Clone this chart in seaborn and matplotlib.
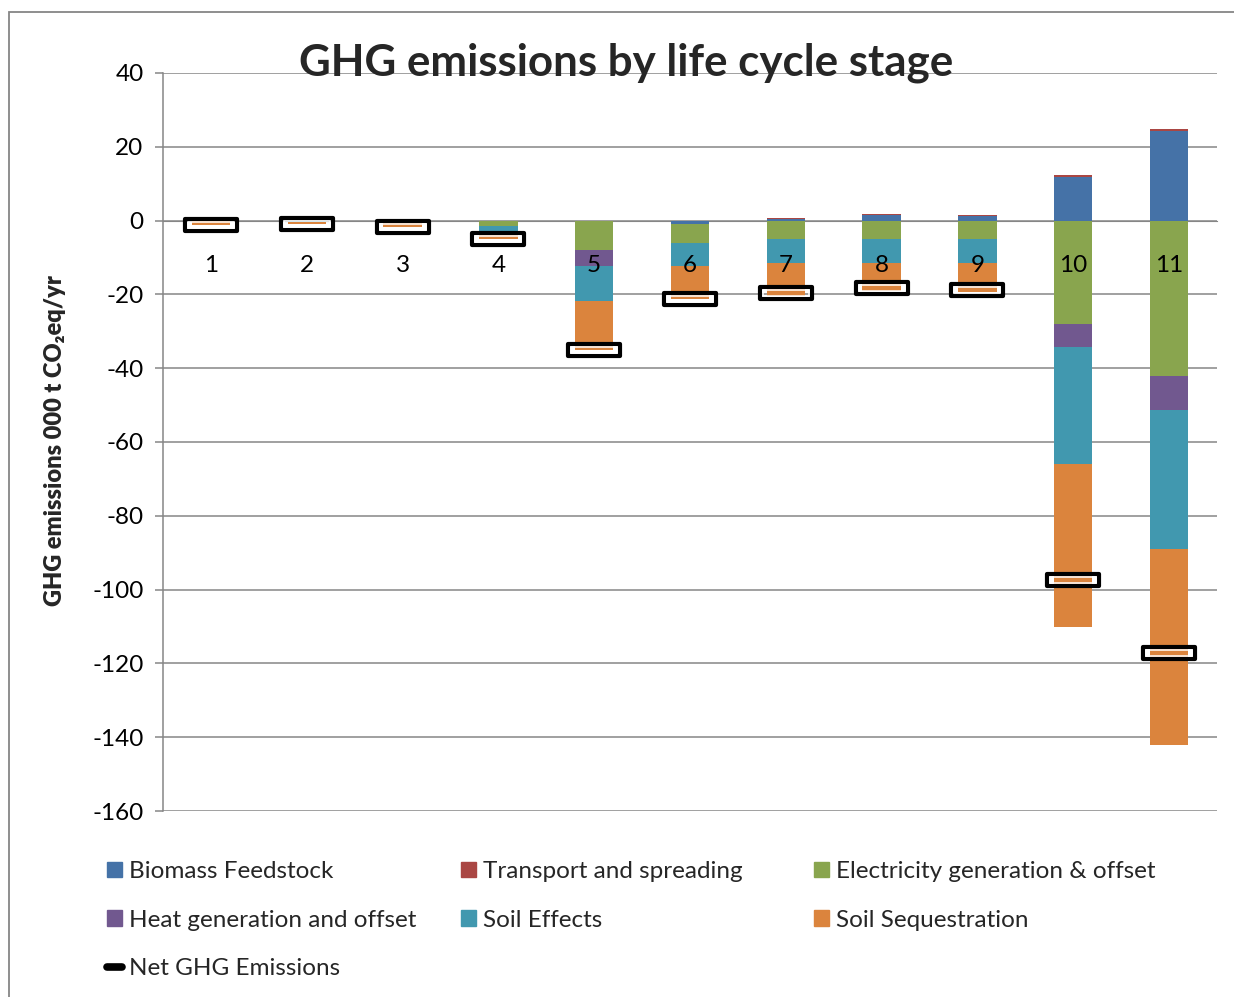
"""
GHG emissions by life cycle stage - stacked bars with net markers
"""

import numpy as np
import matplotlib
matplotlib.use("Agg")
import matplotlib.pyplot as plt
import seaborn as sns
from matplotlib.path import Path
from matplotlib.markers import MarkerStyle
from matplotlib.patches import Patch, Rectangle
from matplotlib.lines import Line2D

# data (000 t CO2eq/yr)
categories = [str(i) for i in range(1, 12)]
biomass = [0, 0, 0, 0, 0, -0.9, 0.4, 1.6, 1.3, 11.9, 24.3]
transport = [0, 0, 0, 0, 0, 0, 0.2, 0.1, 0.1, 0.4, 0.4]
electricity = [0, 0, 0, -1.4, -8.0, -5.3, -5.1, -5.1, -5.1, -28.0, -42.1]
heat = [0, 0, 0, 0, -4.2, 0, 0, 0, 0, -6.3, -9.2]
soil_effects = [0, -0.3, 0, -1.6, -9.6, -6.1, -6.3, -6.3, -6.3, -31.7, -37.7]
soil_seq = [-1.2, -0.7, -1.6, -2.0, -13.4, -8.9, -8.9, -7.6, -8.0, -44.1, -53.1]
net = [-1.2, -1.0, -1.6, -5.1, -35.0, -21.2, -19.7, -18.3, -18.8, -97.4, -117.2]

series_names = ["Biomass Feedstock", "Transport and spreading",
                "Electricity generation & offset", "Heat generation and offset",
                "Soil Effects", "Soil Sequestration"]
series_colors = ["#4572A7", "#AA4643", "#89A54E", "#71588F", "#4198AF", "#DB843D"]

GRAY = "#868686"
FS = 17.5

sns.set_style("white")
plt.rcParams["font.family"] = ["Lato", "DejaVu Sans"]
plt.rcParams["axes.unicode_minus"] = False

fig = plt.figure(figsize=(12.34, 9.97), dpi=100)
ax = fig.add_axes([163 / 1234, 1 - 811 / 997, (1217 - 163) / 1234, (811 - 73) / 997])

# Excel-style stacking: positives stack up, negatives stack down
values = np.array([biomass, transport, electricity, heat, soil_effects, soil_seq])
pos = np.clip(values, 0, None).cumsum(axis=0)
neg = np.clip(values, None, 0).cumsum(axis=0)

# draw cumulative bars from the outermost layer inwards
for k in range(len(series_names) - 1, -1, -1):
    for stack in (pos, neg):
        sns.barplot(x=categories, y=stack[k], color=series_colors[k], width=0.4,
                    saturation=1, linewidth=0, errorbar=None, ax=ax)

# net markers: thick black box with white inner ring
x_pos = np.arange(len(categories))
outer = MarkerStyle(Path([(-1, -0.216), (1, -0.216), (1, 0.216), (-1, 0.216), (-1, -0.216)],
                         closed=True), joinstyle="round")
inner = MarkerStyle(Path([(-1, -0.121), (1, -0.121), (1, 0.121), (-1, 0.121), (-1, -0.121)],
                         closed=True), joinstyle="miter")
ax.plot(x_pos, net, ls="none", marker=outer, ms=37.5, mfc="none", mec="black", mew=3.0, zorder=4)
ax.plot(x_pos, net, ls="none", marker=inner, ms=33.4, mfc="none", mec="white", mew=1.1, zorder=5)

# axes styling
ax.set_xlim(-0.5, 10.5)
ax.set_ylim(-160, 40)
ax.set_yticks(range(-160, 41, 20))
ax.set_axisbelow(True)
ax.yaxis.grid(True, color=GRAY, lw=1.1)
ax.xaxis.grid(False)
ax.xaxis.set_zorder(3)
ax.set_xlabel("")
ax.set_ylabel("")

for side in ("top", "right"):
    ax.spines[side].set_visible(False)
ax.spines["bottom"].set_position(("data", 0))
ax.spines["bottom"].set_color(GRAY)
ax.spines["bottom"].set_zorder(0.6)
ax.spines["left"].set_color(GRAY)
ax.spines["left"].set_linewidth(1.1)

ax.set_xticks(x_pos)
ax.set_xticklabels(categories)
ax.set_xticks(np.arange(-0.5, 11, 1), minor=True)
ax.tick_params(axis="x", which="major", length=0, pad=25, labelsize=FS, labelcolor="black")
ax.tick_params(axis="x", which="minor", length=5, width=1.1, color=GRAY, direction="out")
ax.tick_params(axis="y", length=6, width=1.1, color=GRAY, pad=8, labelsize=FS,
               labelcolor="black", left=True)

fig.text(55 / 1234, 1 - 441 / 997, "GHG emissions 000 t CO₂eq/yr", rotation=90,
         ha="center", va="center", fontsize=17, fontweight="heavy")
fig.text(626 / 1234, 1 - 63 / 997, "GHG emissions by life cycle stage",
         ha="center", va="center", fontsize=31.6, fontweight="bold")

# outer chart border
fig.add_artist(Rectangle((9 / 1234, -0.1), 1.2, (1 - 12 / 997) + 0.1,
                         transform=fig.transFigure, fill=False, ec=GRAY, lw=1.3))

# legend, laid out in rows like Excel
patches = [Patch(color=c, label=n) for c, n in zip(series_colors, series_names)]
net_handle = Line2D([], [], color="black", lw=5.5, solid_capstyle="round",
                    label="Net GHG Emissions")
columns = [
    ([patches[0], patches[3], net_handle], 107),
    ([patches[1], patches[4]], 461),
    ([patches[2], patches[5]], 814),
]
for handles, x_left in columns:
    fig.legend(handles=handles, loc="upper left", bbox_to_anchor=(x_left / 1234, 1 - 861 / 997),
               frameon=False, fontsize=FS, handlelength=0.6, handleheight=0.6,
               handletextpad=0.3, labelspacing=1.14, borderpad=0, borderaxespad=0)

fig.savefig("out.png", dpi=100)
plt.close(fig)
